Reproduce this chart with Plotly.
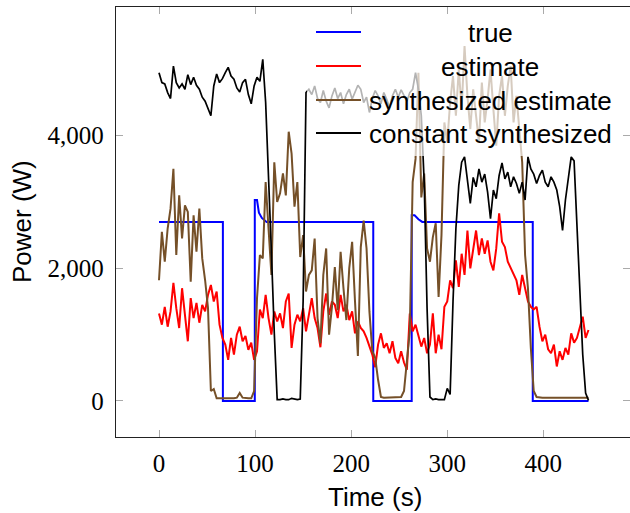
import plotly.graph_objects as go

# ---------------- data ----------------
time_s = list(range(0, 448, 3))  # sampling grid (s)

true_t = [0, 66.5, 66.5, 99.7, 99.7, 102, 104, 107, 112, 223, 223, 263, 263, 266, 270, 274, 389, 389, 447]
true_w = [2700, 2700, 0, 0, 3030, 3030, 2840, 2760, 2700, 2700, 0, 0, 2800, 2800, 2740, 2700, 2700, 0, 0]

estimate_w = [
    1320, 1150, 1420, 1120, 1350, 1780, 1400, 1100, 1700, 1300,
    900, 1550, 1250, 1480, 1180, 1450, 1350, 1600, 1750, 1500,
    1650, 1150, 950, 850, 620, 950, 700, 1000, 1120, 900,
    980, 770, 880, 620, 750, 1380, 1250, 1600, 1250, 1000,
    1350, 1200, 1320, 1100, 1500, 1620, 800, 1150, 1300, 1200,
    1400, 1050, 1300, 1550, 1250, 1100, 810, 1350, 1620, 1300,
    1500, 1450, 1250, 1600, 1350, 1450, 1220, 1350, 1020, 1200,
    1100, 1050, 950, 810, 700, 510, 850, 1020, 800, 870,
    720, 900, 650, 570, 750, 580, 470, 1320, 1050, 1150,
    1000, 820, 950, 720, 850, 1320, 720, 1000, 780, 1420,
    1500, 1820, 1700, 2120, 1720, 2220, 1900, 2570, 2000, 2300,
    2570, 2200, 2450, 2220, 2420, 2100, 1970, 2300, 2830, 2400,
    2320, 2100, 2000, 1900, 1820, 1600, 1900, 1700, 1500, 1420,
    1380, 1420, 1120, 900, 1000, 780, 720, 850, 520, 750,
    620, 800, 700, 1020, 880, 950, 1120, 1270, 950, 1070,
]

synth_estimate_w = [
    1820, 2550, 2100, 2600, 2900, 3500, 2200, 3100, 2450, 2950,
    2850, 1800, 2800, 2250, 2900, 2150, 1820, 1400, 150, 180,
    40, 40, 35, 40, 40, 40, 40, 50, 120, 50,
    40, 40, 40, 150, 1550, 2200, 2150, 3300, 2600, 1900,
    3600, 3000, 3130, 3430, 3100, 4060, 3730, 2930, 3300, 2170,
    2500, 1650, 1900, 1970, 2450, 1250, 870, 1900, 2300, 1000,
    1420, 2020, 1370, 2250, 1700, 1220, 2000, 2400, 1500, 680,
    2320, 2720, 2300, 1350, 750, 650, 320, 60, 50, 50,
    50, 50, 50, 55, 60, 150, 600, 1050, 3300, 3650,
    4950, 3070, 3430, 2300, 2100, 2470, 2680, 1570, 2500, 4200,
    3900, 4500, 4900, 4300, 5000, 4400, 5350, 4600, 4100, 4700,
    4300, 3900, 4800, 4200, 4550, 5000, 4400, 3850, 4600, 4900,
    4300, 4750, 5050, 4200, 4600, 4050, 3600, 2200, 1700, 800,
    150, 60, 50, 50, 50, 50, 50, 50, 50, 50,
    50, 50, 50, 50, 50, 50, 50, 50, 50, 50,
]

const_synth_w = [
    4950, 4800, 4780, 4650, 4560, 5050, 4800, 4720, 4780, 4700,
    4920, 4770, 4880, 4760, 4700, 4580, 4520, 4400, 4300, 4750,
    4930, 4800, 4860, 4950, 5030, 4900, 4850, 4720, 4660, 4800,
    4850, 4620, 4480, 4750, 4880, 4820, 5150, 4500, 3480, 2240,
    1020, 20, 20, 30, 20, 20, 40, 25, 20, 30,
    1500, 4650, 4700, 4620, 4750, 4560, 4500, 4680, 4520, 4420,
    4600, 4720, 4560, 4650, 4480, 4620, 4700, 4550, 4650, 4760,
    4700, 4500, 4580, 4350, 4560, 4680, 4600, 4480, 4650, 4550,
    4420, 4600, 4700, 4580, 4690, 4600, 4520, 4650, 4700, 4950,
    4700, 4300, 3300, 1400, 60, 20, 30, 20, 25, 20,
    190, 100, 1500, 2600, 3250, 3600, 3680, 3350, 2980, 3370,
    3230, 3500, 3300, 3420, 3150, 2750, 3180, 3050, 3400, 3590,
    3350, 3450, 3230, 3380, 3280, 3130, 3300, 3030, 3680, 3500,
    3420, 3280, 3400, 3480, 3300, 3230, 3380, 3300, 3180, 2930,
    2570, 3030, 3380, 3680, 3620, 2700, 1600, 700, 120, 10,
]

x_ticks = [0, 100, 200, 300, 400]
x_tick_text = ["0", "100", "200", "300", "400"]
y_ticks = [0, 2000, 4000]
y_tick_text = ["0", "2,000", "4,000"]

x_title = "Time (s)"
y_title = "Power (W)"
series_names = ["true", "estimate", "synthesized estimate", "constant synthesized"]
series_colors = ["#0000ff", "#ff0000", "rgb(117,80,40)", "#000000"]

# ---------------- figure ----------------
fig = go.Figure()
fig.add_trace(go.Scatter(x=true_t, y=true_w, mode="lines", name=series_names[0],
                         line=dict(color=series_colors[0], width=2)))
fig.add_trace(go.Scatter(x=time_s, y=estimate_w, mode="lines", name=series_names[1],
                         line=dict(color=series_colors[1], width=2)))
fig.add_trace(go.Scatter(x=time_s, y=synth_estimate_w, mode="lines", name=series_names[2],
                         line=dict(color=series_colors[2], width=2)))
fig.add_trace(go.Scatter(x=time_s, y=const_synth_w, mode="lines", name=series_names[3],
                         line=dict(color=series_colors[3], width=1.7)))

W, H = 630, 513
L, R, T, B = 116, 0, 7, 76
pw, ph = W - L - R, H - T - B

def px(x):
    return (x - L) / pw

def py(y):
    return (H - B - y) / ph

sans = "Liberation Sans, Arial, sans-serif"
serif = "Liberation Serif, Times New Roman, serif"

shapes = [dict(type="rect", xref="paper", yref="paper", layer="above",
               x0=px(307), x1=px(621), y0=py(156), y1=py(16),
               fillcolor="rgba(255,255,255,0.7)", line=dict(width=0))]
annotations = []
rows = [32, 66, 100, 133]
for name, color, row in zip(series_names, series_colors, rows):
    shapes.append(dict(type="line", xref="paper", yref="paper", layer="above",
                       x0=px(316), x1=px(361), y0=py(row), y1=py(row),
                       line=dict(color=color, width=2)))
    annotations.append(dict(xref="paper", yref="paper", x=px(490), y=py(row + 1),
                            text=name, showarrow=False, xanchor="center", yanchor="middle",
                            font=dict(family=sans, size=26, color="black")))

# axis titles
annotations.append(dict(xref="paper", yref="paper", x=px(375), y=py(497), text=x_title,
                        showarrow=False, xanchor="center", yanchor="middle",
                        font=dict(family=sans, size=26, color="black")))
annotations.append(dict(xref="paper", yref="paper", x=px(22), y=py(222), text=y_title,
                        showarrow=False, xanchor="center", yanchor="middle", textangle=-90,
                        font=dict(family=sans, size=26, color="black")))

axis_common = dict(ticks="inside", ticklen=7, tickcolor="#aaaaaa", tickwidth=1.3,
                   showline=True, linecolor="#222222", linewidth=1.3, mirror="ticks",
                   showgrid=False, zeroline=False, automargin=False,
                   tickfont=dict(family=serif, size=25, color="black"))

fig.update_layout(
    width=W, height=H,
    margin=dict(l=L, r=R, t=T, b=B, pad=0, autoexpand=False),
    paper_bgcolor="white", plot_bgcolor="white",
    showlegend=False,
    shapes=shapes, annotations=annotations,
    xaxis=dict(range=[-44.75, 490.2], tickvals=x_ticks, ticktext=x_tick_text,
               ticklabelstandoff=4, **axis_common),
    yaxis=dict(range=[-543, 5940], tickvals=y_ticks, ticktext=y_tick_text,
               ticklabelstandoff=6, **axis_common),
)

fig.write_html("out.html", config={"displayModeBar": False},
               post_script="document.body.style.margin='0px';document.body.style.overflow='hidden';")
